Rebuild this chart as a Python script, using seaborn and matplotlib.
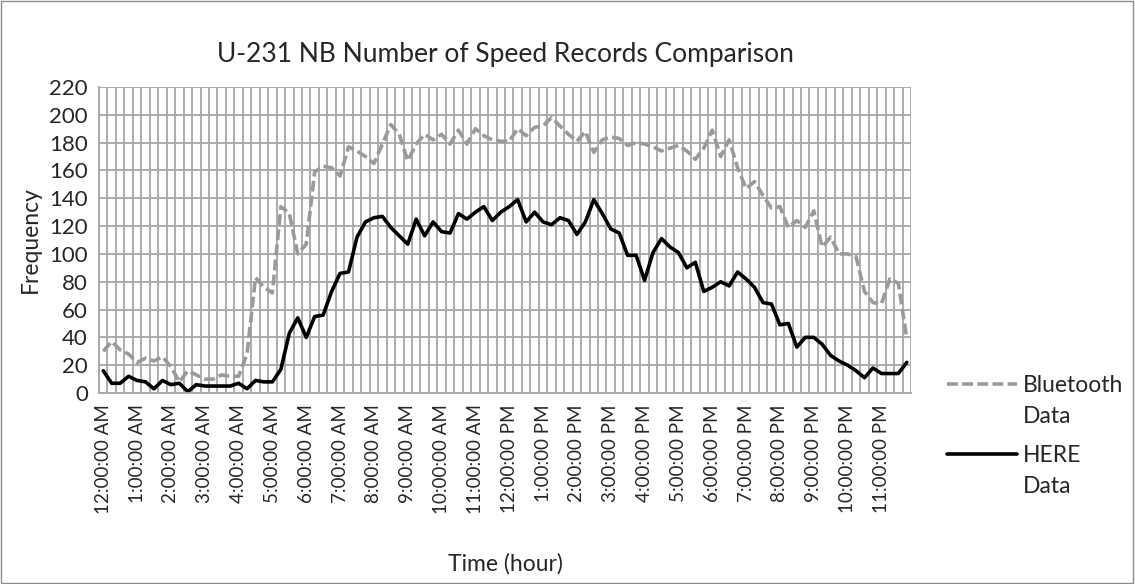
import numpy as np
import pandas as pd
import matplotlib
matplotlib.use("Agg")
import matplotlib.pyplot as plt
import seaborn as sns
from matplotlib.patches import Rectangle
from matplotlib.lines import Line2D

# 15-minute bins over one day (96 bins)
bluetooth = [30, 37, 31, 28, 22, 25, 23, 26, 19, 8, 16, 13, 10, 10, 13, 12,
             12, 28, 83, 76, 72, 134, 129, 100, 107, 159, 163, 162, 156, 177, 174, 170,
             165, 179, 193, 186, 167, 179, 186, 182, 186, 179, 189, 179, 190, 185, 182, 181,
             181, 190, 185, 191, 192, 198, 192, 186, 181, 188, 173, 182, 184, 183, 178, 180,
             179, 177, 174, 176, 178, 174, 168, 176, 189, 170, 182, 162, 147, 152, 142, 133,
             134, 119, 124, 119, 131, 105, 112, 100, 100, 98, 73, 65, 64, 82, 79, 39]
here = [16, 7, 7, 12, 9, 8, 3, 9, 6, 7, 1, 6, 5, 5, 5, 5,
        7, 3, 9, 8, 8, 17, 43, 54, 40, 55, 56, 73, 86, 87, 112, 123,
        126, 127, 119, 113, 107, 125, 113, 123, 116, 115, 129, 125, 130, 134, 124, 130,
        134, 139, 123, 130, 123, 121, 126, 124, 114, 123, 139, 129, 118, 115, 99, 99,
        81, 101, 111, 105, 101, 90, 94, 73, 76, 80, 77, 87, 82, 76, 65, 64,
        49, 50, 33, 40, 40, 35, 27, 23, 20, 16, 11, 18, 14, 14, 14, 22]
hour_labels = ["12:00:00 AM", "1:00:00 AM", "2:00:00 AM", "3:00:00 AM", "4:00:00 AM",
               "5:00:00 AM", "6:00:00 AM", "7:00:00 AM", "8:00:00 AM", "9:00:00 AM",
               "10:00:00 AM", "11:00:00 AM", "12:00:00 PM", "1:00:00 PM", "2:00:00 PM",
               "3:00:00 PM", "4:00:00 PM", "5:00:00 PM", "6:00:00 PM", "7:00:00 PM",
               "8:00:00 PM", "9:00:00 PM", "10:00:00 PM", "11:00:00 PM"]
series_names = ["Bluetooth Data", "HERE Data"]

n = len(here)
df = pd.DataFrame({
    "bin": list(range(n)) * 2,
    "value": bluetooth + here,
    "series": [series_names[0]] * n + [series_names[1]] * n,
})

sns.set_style("white")
plt.rcParams["font.family"] = ["Lato", "DejaVu Sans"]
grid_col = "#a6a6a6"
bt_col = "#9a9a9a"
lw = 2.6
W, H = 1135, 584

fig = plt.figure(figsize=(W / 100, H / 100), dpi=100)
ax = fig.add_axes([99 / W, 1 - 393 / H, 812 / W, 306 / H])

sns.lineplot(data=df, x="bin", y="value", hue="series", style="series",
             palette={series_names[0]: bt_col, series_names[1]: "black"},
             dashes={series_names[0]: (3, 1.2), series_names[1]: ""},
             linewidth=lw, ax=ax, legend=False)

ax.set_xlim(-0.5, n - 0.5)
ax.set_ylim(0, 220)
ax.set_yticks(np.arange(0, 221, 20))

# category boundaries as vertical grid
ax.set_xticks(np.arange(-0.5, n, 1), minor=True)
ax.set_xticks(np.arange(0, n, 4))
ax.set_xticklabels(hour_labels, rotation=90, fontsize=13.5)
ax.tick_params(axis="x", which="major", length=0, pad=8)
ax.tick_params(axis="x", which="minor", length=5, color=grid_col, width=1.2)
ax.tick_params(axis="y", length=5, color=grid_col, width=1.2, labelsize=16, pad=3)
ax.grid(True, which="minor", axis="x", color=grid_col, linewidth=1.3)
ax.grid(True, which="major", axis="y", color=grid_col, linewidth=1.3)
ax.set_axisbelow(True)
for side in ["top", "right"]:
    ax.spines[side].set_visible(False)
for side in ["left", "bottom"]:
    ax.spines[side].set_color(grid_col)
    ax.spines[side].set_linewidth(1.3)

ax.set_title("U-231 NB Number of Speed Records Comparison", fontsize=19, pad=18)
ax.set_xlabel("Time (hour)", fontsize=16.5)
ax.set_ylabel("Frequency", fontsize=16.5)
ax.yaxis.set_label_coords((41 - 99) / 812, 0.5)
ax.xaxis.set_label_coords(0.5, -(553 - 393) / 306)

# legend: handle sits beside the first line of each wrapped label
legend_rows = [(series_names[0], bt_col, (3, 1.2), 392), (series_names[1], "black", None, 462)]
for name, col, dash, base in legend_rows:
    first, second = name.split(" ")
    ln = Line2D([947 / W, 1017 / W], [1 - (base - 8) / H] * 2, transform=fig.transFigure,
                color=col, linewidth=lw)
    if dash:
        ln.set_dashes(dash)
    fig.add_artist(ln)
    fig.text(1023 / W, 1 - base / H, first, fontsize=16.5, va="baseline")
    fig.text(1023 / W, 1 - (base + 31) / H, second, fontsize=16.5, va="baseline")

fig.patches.append(Rectangle((0.001, 0.001), 0.997, 0.997, transform=fig.transFigure,
                             fill=False, edgecolor="#8c8c8c", linewidth=1))

fig.savefig("out.png", dpi=100)
